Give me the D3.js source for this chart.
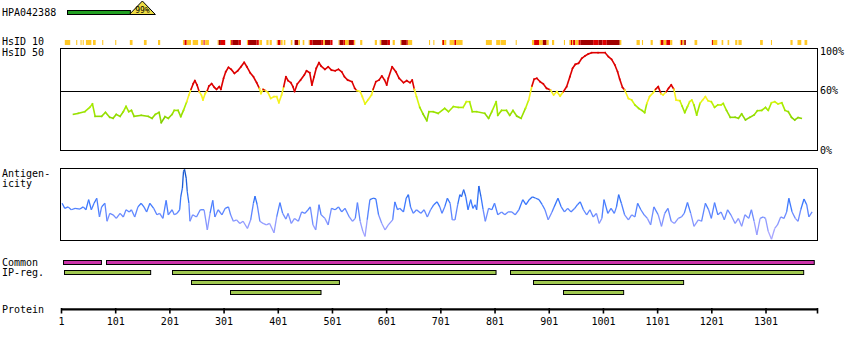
<!DOCTYPE html>
<html><head><meta charset="utf-8">
<script src="https://cdn.jsdelivr.net/npm/d3@7"></script>
<style>body{margin:0;background:#fff}svg{display:block}text{font-family:"DejaVu Sans Mono",monospace;font-size:10px;fill:#000}</style>
</head><body><svg id="c" width="850" height="350"></svg>
<script>
// ---------------- DATA ----------------
const antibodyId = "HPA042388";
const antibodyIdentity = 99;          // percent
const seqLength = 1396;
const tickValues = [1,101,201,301,401,501,601,701,801,901,1001,1101,1201,1301];
const hsidTickValues = [100, 60, 0];

// HsID 10 strip: [start, end] residues and class (o = orange, r = red, d = dark red)
const hs10Start = [8,29,37,41,47,60,77,101,128,154,180,226,229,233,244,259,264,267,290,292,296,313,315,318,329,344,346,348,362,367,380,386,399,401,407,412,425,432,439,447,458,460,465,481,485,488,498,513,515,522,525,532,540,542,553,580,589,592,604,613,627,629,639,641,680,688,704,705,708,718,727,730,785,804,812,840,870,874,883,890,897,907,929,939,942,944,946,950,956,960,983,993,1000,1008,1032,1063,1073,1089,1106,1108,1113,1118,1125,1143,1145,1148,1151,1170,1202,1204,1220,1231,1245,1251,1291,1311,1347,1360,1373];
const hs10End   = [18,31,39,43,57,65,79,103,133,159,184,229,233,241,254,263,266,274,292,296,304,315,318,329,333,346,348,362,366,372,384,390,401,406,410,415,428,439,442,450,460,465,481,485,488,498,502,515,522,525,532,540,542,544,557,584,592,604,608,617,629,639,641,649,682,690,705,708,712,727,730,742,796,811,822,842,874,883,890,897,901,911,931,942,944,946,950,956,960,983,993,1000,1008,1032,1035,1069,1075,1093,1108,1113,1118,1125,1129,1145,1148,1151,1154,1175,1204,1212,1223,1234,1249,1257,1296,1313,1351,1367,1378];
const hs10Class = ["o","o","o","o","o","o","o","o","o","o","o","o","r","o","o","o","r","o","o","d","r","o","r","d","r","o","r","d","r","o","o","o","o","r","o","o","o","d","o","o","o","r","d","r","o","d","r","o","d","r","o","d","r","o","o","o","o","d","r","o","o","d","r","o","o","o","o","r","o","o","r","o","o","o","o","o","o","r","o","d","o","o","o","o","r","o","r","o","r","d","r","d","r","d","o","o","o","o","o","r","o","r","o","o","r","o","d","o","r","o","o","o","o","o","o","o","o","o","o"];

// HsID 50 (% identity) profile
const hs50Pos = [24,33,45,54,59,64,76,83,91,97,103,110,116,121,126,131,136,149,162,169,175,182,186,193,199,206,210,217,222,227,233,237,241,245,248,252,256,260,263,267,271,274,279,284,288,293,296,301,305,310,315,321,327,333,339,344,350,356,362,367,370,374,378,383,388,394,399,403,408,412,416,420,425,429,432,437,443,450,454,460,464,468,472,477,481,488,494,500,507,513,519,524,530,538,543,547,553,557,562,568,574,577,582,588,593,598,602,605,612,619,625,633,639,645,649,653,657,663,669,676,680,688,697,709,716,725,734,743,749,755,760,768,783,790,796,804,807,814,823,829,835,842,850,858,864,870,874,879,885,891,897,904,910,916,922,928,934,940,945,950,956,962,968,974,980,992,1005,1011,1017,1023,1028,1032,1037,1041,1048,1054,1060,1067,1073,1078,1082,1087,1094,1098,1103,1108,1112,1118,1122,1127,1132,1136,1143,1147,1152,1157,1161,1165,1169,1174,1180,1185,1190,1195,1201,1207,1213,1219,1223,1229,1236,1245,1251,1257,1264,1272,1280,1286,1294,1301,1306,1312,1318,1324,1331,1337,1343,1349,1355,1361,1367];
const hs50Val = [36,37,38.7,43,46.5,34,34,38,33,32,36,34,38.7,44,38.7,40,34,35,34,32,36,38,27.6,33.7,32,36,40,40,33.7,40,48.8,55.6,61.3,67,70,65.7,59,55.6,50.5,57,60,64.6,67,63.3,61.3,64,61.3,72.4,79,83.5,81.5,77.4,80,84,88.5,84,78,74,68,62.3,57,61.3,60,58,52,53.9,53.9,47.8,55.6,64,74,70,68,64,59,66.7,70.7,75.8,80,78,65.7,74,82.5,88.2,84.8,81.5,84,80.8,80,81.5,79,74,70.7,69,62.3,60,59,53.9,46.5,51,55.6,61.3,69,70.7,74.7,70.7,65.7,72.4,84,79,72.4,68,70,68,70.7,61.3,53.9,43,36.4,29.6,38.7,38.7,37,42,38.7,43.8,43,43,48.8,48.8,38.7,38.7,37,32,38.7,48.8,35,40,40,35,40,34.3,32,42,50.5,64.6,71.4,72.4,69,66.7,62.3,60.6,55.6,59,54.5,59,64,74,82.5,86.5,87.6,92.6,95,97,98.3,98.3,98.3,94.3,91.6,85.9,79,71.4,63.3,60.6,52,50.5,45.5,42,40,37.7,47,53.9,58,61.3,64,57,55.6,59,62.3,65.7,61.3,50.5,49.8,44.4,37.7,43.8,48.8,50.5,45.5,35.4,47,50.5,53.9,49.8,48.8,43,45.5,45.5,47,40,33,33,32,36.4,30.3,33,35.4,39.7,40,43,40,47.8,48.8,46.5,47.8,40,38.7,33,30.3,32.7,32];

// Antigenicity profile (relative units, 0 = bottom of panel, 100 = top)
const antPos = [3,8,14,20,27,36,42,47,52,57,62,67,72,76,82,86,91,97,103,110,116,121,127,131,137,143,149,154,159,165,172,178,183,189,195,199,206,210,215,220,222,225,227,229,232,234,237,239,244,251,258,265,271,276,281,285,291,298,304,310,314,319,325,331,337,345,351,356,359,363,368,374,380,386,394,399,405,410,416,420,426,432,439,445,451,457,461,466,471,477,481,488,494,500,507,513,519,525,533,539,544,548,553,558,562,566,571,577,582,587,593,599,605,613,617,622,626,633,638,642,646,651,657,665,671,677,683,689,695,700,704,709,714,719,723,728,733,737,740,744,748,752,757,761,765,768,772,776,780,784,790,796,801,807,814,820,826,833,839,846,853,859,865,871,877,883,889,894,900,907,911,918,924,930,936,942,949,954,959,965,971,977,983,989,994,999,1003,1010,1016,1022,1026,1030,1035,1041,1048,1054,1060,1065,1071,1077,1083,1089,1095,1103,1109,1115,1121,1127,1133,1140,1146,1151,1157,1163,1169,1177,1183,1190,1196,1201,1207,1213,1219,1225,1231,1237,1245,1251,1257,1263,1270,1275,1280,1285,1291,1297,1301,1306,1312,1318,1323,1329,1335,1340,1344,1350,1356,1361,1366,1372,1377,1381,1387];
const antVal = [51,44,46,42,44,43,46,42,56,42,51,58,32,46,51,26,37,35,30,37,32,42,39,42,32,46,51,46,39,51,44,35,37,30,55,35,42,35,37,42,60,72,95,98,86,67,51,26,35,32,42,42,14,37,55,32,42,35,44,46,35,26,28,23,26,16,28,51,61,49,26,23,21,23,10,32,52,37,29,37,23,30,26,39,37,42,46,21,14,49,35,30,21,44,42,46,39,44,32,26,30,52,26,12,5,28,56,58,57,35,23,14,21,28,53,42,44,39,58,63,46,37,42,37,42,32,42,49,53,46,37,46,58,51,28,28,49,63,60,70,60,42,56,44,49,42,75,60,42,26,44,42,51,35,39,35,39,39,35,42,56,49,56,60,58,56,49,42,28,39,46,58,46,39,44,39,44,49,53,42,35,42,32,37,23,30,56,37,44,37,46,63,51,35,28,35,32,51,42,35,30,21,46,35,19,37,44,26,23,30,32,37,52,37,19,28,26,51,42,30,52,35,39,28,42,35,23,30,19,35,30,42,26,7,30,32,30,12,1,16,21,32,30,39,58,39,30,26,42,57,49,32,39,42];

// Annotation tracks
const commonStart = [5, 84];
const commonEnd   = [75, 1390];
const ipStart = [7, 206, 830, 241, 872, 313, 928];
const ipEnd   = [166, 803, 1371, 514, 1149, 480, 1039];
const ipRow   = [0, 0, 0, 1, 1, 2, 2];

// ---------------- DRAW ----------------
const svg = d3.select("#c");
svg.append("rect").attr("width",850).attr("height",350).attr("fill","#fff");

const x = d3.scaleLinear().domain([1, seqLength]).range([61, 817]);
const yH = d3.scaleLinear().domain([0, 100]).range([150, 51]);
const yA = d3.scaleLinear().domain([0, 100]).range([240, 168]);
const hpa = d3.scaleLinear().domain([0, 100]).range([67, 131]);

// Header: antibody identity
const bx = hpa(antibodyIdentity);
svg.append("text").attr("x",2).attr("y",15.5).text(antibodyId);
svg.append("rect").attr("x",67.5).attr("y",10.5).attr("width",bx-67.5).attr("height",4)
  .attr("fill","#22a022").attr("stroke","#000").attr("stroke-width",1);
svg.append("path").attr("d",`M${bx-1},14.5 L${bx+25},14.5 L${bx+12},1 Z`)
  .attr("fill","#eedd44").attr("stroke","#000").attr("stroke-width",1);
svg.append("text").attr("x",bx+12).attr("y",12.5).attr("text-anchor","middle")
  .style("font-size","8px").text(antibodyIdentity+"%");

// Labels
const labels = [["HsID 10",45],["HsID 50",55.5],["Antigen-",176.5],["icity",186.5],["Common",266],["IP-reg.",276],["Protein",313]];
svg.selectAll("text.lbl").data(labels).join("text").attr("class","lbl")
  .attr("x",2).attr("y",d=>d[1]).text(d=>d[0]);

// HsID 10 strip
const stripColor = {o:"#ffc826", r:"#dd0000", d:"#a00000"};
svg.append("g").selectAll("rect").data(hs10Start.map((s,i)=>({s, e:hs10End[i], c:hs10Class[i]})))
  .join("rect")
  .attr("x", d=>x(d.s)).attr("width", d=>Math.max(1, x(d.e)-x(d.s)))
  .attr("y",40).attr("height",5).attr("fill", d=>stripColor[d.c]);

// HsID 50 panel
svg.append("rect").attr("x",60.5).attr("y",48.5).attr("width",757).attr("height",102)
  .attr("fill","none").attr("stroke","#000");
svg.append("line").attr("x1",60.5).attr("x2",817.5).attr("y1",Math.round(yH(60))+0.5).attr("y2",Math.round(yH(60))+0.5)
  .attr("stroke","#000");
svg.selectAll("text.pct").data(hsidTickValues).join("text").attr("class","pct")
  .attr("x",820).attr("y",d=>yH(d)+3.5).text(d=>d+"%");

function hsColor(v){
  if (v >= 60) return "#dd0000";
  if (v >= 50) return "#f6f21e";
  return d3.scaleLinear().domain([25,32,44,50]).range(["#559e00","#8cd800","#a8ec00","#e8f810"]).clamp(true)(v);
}
const hsSeg = hs50Pos.slice(1).map((p,i)=>({x1:hs50Pos[i], v1:hs50Val[i], x2:p, v2:hs50Val[i+1]}));
svg.append("g").selectAll("line").data(hsSeg).join("line")
  .attr("x1",d=>x(d.x1)).attr("y1",d=>yH(d.v1)).attr("x2",d=>x(d.x2)).attr("y2",d=>yH(d.v2))
  .attr("stroke",d=>hsColor((d.v1+d.v2)/2)).attr("stroke-width",1.6).attr("stroke-linecap","square");

// Antigenicity panel
svg.append("rect").attr("x",60.5).attr("y",168.5).attr("width",757).attr("height",72)
  .attr("fill","none").attr("stroke","#000");
const antColor = d3.scaleLinear().domain([0,25,50,100]).range(["#b4acff","#8c98ff","#3a78ff","#0a4cc0"]).clamp(true);
const antSeg = antPos.slice(1).map((p,i)=>({x1:antPos[i], v1:antVal[i], x2:p, v2:antVal[i+1]}));
svg.append("g").selectAll("line").data(antSeg).join("line")
  .attr("x1",d=>x(d.x1)).attr("y1",d=>yA(d.v1)).attr("x2",d=>x(d.x2)).attr("y2",d=>yA(d.v2))
  .attr("stroke",d=>antColor((d.v1+d.v2)/2)).attr("stroke-width",1.3);

// Common track
svg.append("g").selectAll("rect").data(commonStart.map((s,i)=>({s,e:commonEnd[i]}))).join("rect")
  .attr("x",d=>Math.round(x(d.s))+0.5).attr("width",d=>x(d.e)-x(d.s))
  .attr("y",260.5).attr("height",4).attr("fill","#cc33aa").attr("stroke","#000");

// IP-reg track
svg.append("g").selectAll("rect").data(ipStart.map((s,i)=>({s,e:ipEnd[i],r:ipRow[i]}))).join("rect")
  .attr("x",d=>Math.round(x(d.s))+0.5).attr("width",d=>x(d.e)-x(d.s))
  .attr("y",d=>270.5+d.r*10).attr("height",4).attr("fill","#a0c850").attr("stroke","#000");

// Protein axis
svg.append("line").attr("x1",x(1)).attr("x2",x(seqLength)).attr("y1",309.3).attr("y2",309.3)
  .attr("stroke","#000").attr("stroke-width",2.2);
const ax = svg.append("g").attr("transform","translate(0,309)")
  .call(d3.axisBottom(x).tickValues(tickValues.concat([seqLength])).tickSize(4.5).tickPadding(4.5).tickFormat(d=> d===seqLength ? "" : d));
ax.select(".domain").remove();
ax.selectAll(".tick line").attr("stroke","#000").attr("stroke-width",1.6).attr("y1",-1);
ax.selectAll(".tick text").style("font-family","'DejaVu Sans Mono',monospace").style("font-size","10px").attr("fill","#000");
</script></body></html>
